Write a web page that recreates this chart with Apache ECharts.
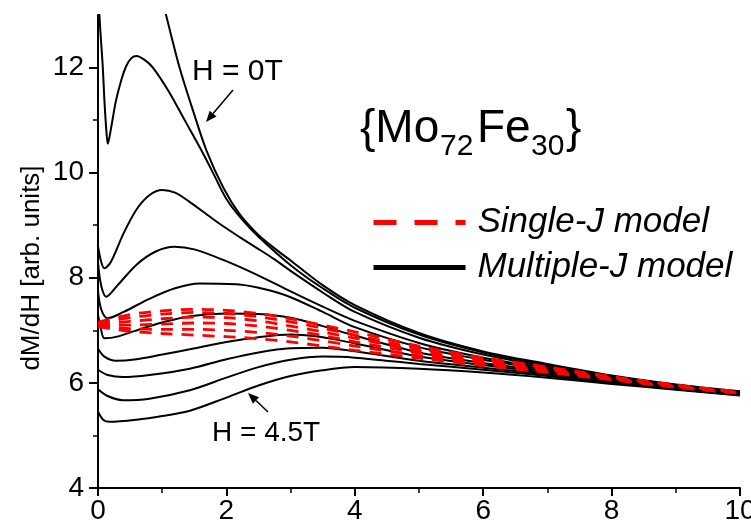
<!DOCTYPE html>
<html>
<head>
<meta charset="utf-8">
<script src="https://cdn.jsdelivr.net/npm/echarts@6/dist/echarts.min.js"></script>
<style>
  html, body { margin: 0; padding: 0; background: #fff; }
  #chart { width: 751px; height: 526px; }
</style>
</head>
<body>
<div id="chart"></div>
<script>
const xTicks = [0, 2, 4, 6, 8, 10];
const yTicks = [4, 6, 8, 10, 12];
const yMinorTicks = [5, 7, 9, 11];

// Multiple-J model, black curves from H = 0T (top) down to H = 4.5T (bottom)
const curveH0 = [[1.0,13.3],[1.06,13.0],[1.27,12.0],[1.48,11.18],[1.69,10.42],[1.95,9.72],[2.2,9.22],[2.47,8.85],[2.75,8.56],[3.0,8.33],[3.5,7.86],[4.0,7.48],[5.0,6.95],[6.0,6.6],[7.0,6.36],[8.0,6.14],[9.0,5.97],[10.0,5.84]];
const curveB = [[0.01,13.6],[0.023,12.98],[0.075,12.0],[0.1,11.37],[0.13,10.8],[0.153,10.55],[0.205,10.86],[0.28,11.37],[0.36,11.75],[0.44,12.03],[0.52,12.18],[0.6,12.22],[0.72,12.15],[0.855,12.0],[1.1,11.55],[1.35,11.0],[1.6,10.45],[1.79,10.0],[2.0,9.5],[2.25,9.1],[2.5,8.78],[3.0,8.24],[3.5,7.8],[4.0,7.43],[5.0,6.92],[6.0,6.58],[7.0,6.34],[8.0,6.13],[9.0,5.96],[10.0,5.83]];
const curveC = [[0,8.6],[0.05,8.3],[0.1,8.18],[0.2,8.3],[0.4,8.85],[0.6,9.3],[0.8,9.57],[1.0,9.67],[1.2,9.62],[1.42,9.45],[1.7,9.2],[1.95,8.98],[2.2,8.78],[2.47,8.57],[2.75,8.35],[3.0,8.13],[3.5,7.72],[4.0,7.35],[5.0,6.86],[6.0,6.54],[7.0,6.31],[8.0,6.11],[9.0,5.95],[10.0,5.82]];
const curveD = [[0,8.3],[0.05,7.85],[0.13,7.64],[0.3,7.85],[0.6,8.25],[0.9,8.5],[1.19,8.59],[1.5,8.54],[1.95,8.34],[2.47,8.06],[3.0,7.74],[3.5,7.45],[4.0,7.18],[5.0,6.76],[6.0,6.48],[7.0,6.28],[8.0,6.09],[9.0,5.94],[10.0,5.82]];
const curveE = [[0,7.75],[0.05,7.4],[0.15,7.23],[0.4,7.35],[0.8,7.6],[1.2,7.8],[1.58,7.89],[2.2,7.87],[2.6,7.78],[3.0,7.63],[3.5,7.35],[4.0,7.06],[5.0,6.68],[6.0,6.44],[7.0,6.25],[8.0,6.07],[9.0,5.93],[10.0,5.81]];
const curveF = [[0,7.3],[0.05,7.0],[0.1,6.85],[0.3,6.88],[0.7,7.04],[1.0,7.15],[1.43,7.27],[2.0,7.32],[2.5,7.31],[3.0,7.24],[3.5,7.08],[4.0,6.9],[5.0,6.58],[6.0,6.38],[7.0,6.22],[8.0,6.05],[9.0,5.91],[10.0,5.8]];
const curveG = [[0,6.65],[0.1,6.5],[0.28,6.42],[0.6,6.45],[1.0,6.54],[1.43,6.64],[2.0,6.78],[2.5,6.87],[3.0,6.92],[3.5,6.87],[4.0,6.75],[5.0,6.5],[6.0,6.34],[7.0,6.19],[8.0,6.03],[9.0,5.9],[10.0,5.79]];
const curveH = [[0,6.25],[0.15,6.15],[0.39,6.11],[0.8,6.15],[1.43,6.27],[2.0,6.45],[2.5,6.58],[3.0,6.66],[3.5,6.67],[4.0,6.6],[5.0,6.42],[6.0,6.29],[7.0,6.16],[8.0,6.01],[9.0,5.89],[10.0,5.78]];
const curveI = [[0,5.88],[0.15,5.75],[0.39,5.67],[0.8,5.7],[1.43,5.86],[2.0,6.1],[2.5,6.3],[3.0,6.44],[3.5,6.5],[4.0,6.48],[5.0,6.36],[6.0,6.25],[7.0,6.13],[8.0,6.0],[9.0,5.88],[10.0,5.77]];
const curveH45 = [[0,5.45],[0.08,5.3],[0.18,5.26],[0.6,5.3],[1.0,5.37],[1.43,5.47],[2.0,5.72],[2.5,5.95],[3.0,6.13],[3.5,6.24],[4.0,6.3],[5.0,6.27],[6.0,6.2],[7.0,6.1],[8.0,5.98],[9.0,5.87],[10.0,5.76]];

// Single-J model, red dashed curves
const redX = [0, 0.5, 1, 1.5, 2, 2.5, 3, 3.5, 4, 5, 6, 7, 8, 9, 10];
const red1 = [7.15, 7.30, 7.37, 7.40, 7.38, 7.32, 7.22, 7.10, 6.97, 6.70, 6.48, 6.30, 6.12, 5.96, 5.83];
const red2 = [7.13, 7.24, 7.31, 7.34, 7.32, 7.26, 7.16, 7.04, 6.91, 6.65, 6.45, 6.28, 6.10, 5.95, 5.82];
const red3 = [7.11, 7.17, 7.22, 7.25, 7.24, 7.18, 7.08, 6.97, 6.85, 6.61, 6.42, 6.26, 6.09, 5.94, 5.82];
const red4 = [7.10, 7.10, 7.12, 7.14, 7.13, 7.08, 7.00, 6.90, 6.78, 6.57, 6.39, 6.24, 6.08, 5.93, 5.81];
const red5 = [7.08, 7.03, 7.02, 7.02, 7.00, 6.96, 6.89, 6.80, 6.70, 6.52, 6.36, 6.22, 6.07, 5.92, 5.81];
const red6 = [7.07, 6.98, 6.94, 6.91, 6.88, 6.84, 6.78, 6.70, 6.62, 6.47, 6.33, 6.20, 6.06, 5.92, 5.80];

const FONT = "'Liberation Sans', Arial, sans-serif";
const blackCurves = [curveH0, curveB, curveC, curveD, curveE, curveF, curveG, curveH, curveI, curveH45];
const redCurves = [red1, red2, red3, red4, red5, red6];

const series = [];
blackCurves.forEach(c => {
    series.push({
        name: "Multiple-J model",
        type: "line",
        data: c,
        smooth: 0.3,
        symbol: "none",
        itemStyle: { color: "#000" },
        lineStyle: { color: "#000", width: 2 },
        z: 2,
    });
});
redCurves.forEach(r => {
    series.push({
        name: "Single-J model",
        type: "line",
        data: redX.map((x, i) => [x, r[i]]),
        smooth: 0.3,
        symbol: "none",
        itemStyle: { color: "#ff0000" },
        lineStyle: { color: "#ff0000", width: 2.8, type: [12, 9] },
        z: 3,
    });
});

// small arrow made of a line and a filled head
function arrow(x1, y1, x2, y2) {
    const a = Math.atan2(y2 - y1, x2 - x1);
    const L = 11, W = 4.5;
    const bx = x2 - L * Math.cos(a), by = y2 - L * Math.sin(a);
    const px = -Math.sin(a) * W, py = Math.cos(a) * W;
    return [
        { type: "line", shape: { x1: x1, y1: y1, x2: bx, y2: by }, style: { stroke: "#000", lineWidth: 1.5 } },
        { type: "polygon", shape: { points: [[x2, y2], [bx + px, by + py], [bx - px, by - py]] }, style: { fill: "#000" } },
    ];
}

const axisLineStyle = { color: "#000", width: 2 };

const option = {
    animation: false,
    grid: { left: 98, right: 11, top: 15, bottom: 38, outerBoundsMode: "none" },
    legend: {
        orient: "vertical",
        left: 371,
        top: 205,
        padding: 0,
        itemGap: 10,
        itemWidth: 92,
        itemHeight: 14,
        selectedMode: false,
        itemStyle: { opacity: 0 },
        textStyle: { fontFamily: FONT, fontSize: 35, fontStyle: "italic", color: "#000", padding: [0, 0, 0, 7] },
        data: [
            { name: "Single-J model", itemStyle: { opacity: 0 }, lineStyle: { width: 5, type: [23, 18], color: "#ff0000" } },
            { name: "Multiple-J model", itemStyle: { opacity: 0 }, lineStyle: { width: 5, color: "#000" } },
        ],
    },
    xAxis: {
        type: "value",
        min: 0,
        max: 10,
        interval: 2,
        axisLine: { show: true, onZero: false, lineStyle: axisLineStyle },
        axisTick: { show: true, length: 8, lineStyle: axisLineStyle },
        minorTick: { show: true, splitNumber: 2, length: 5, lineStyle: { color: "#000", width: 1.5 } },
        splitLine: { show: false },
        axisLabel: { customValues: xTicks, margin: 9, fontFamily: FONT, fontSize: 28, color: "#000" },
    },
    yAxis: [
        {
            type: "value",
            min: 4,
            max: 13,
            interval: 2,
            axisLine: { show: true, onZero: false, lineStyle: axisLineStyle },
            axisTick: { show: true, customValues: yTicks, length: 9, lineStyle: axisLineStyle },
            splitLine: { show: false },
            axisLabel: { customValues: yTicks, margin: 14, fontFamily: FONT, fontSize: 28, color: "#000" },
        },
        {
            // only carries the short ticks at odd values
            type: "value",
            position: "left",
            min: 4,
            max: 13,
            interval: 1,
            axisLine: { show: false },
            axisTick: { show: true, customValues: yMinorTicks, length: 5, lineStyle: { color: "#000", width: 1.5 } },
            axisLabel: { show: false },
            splitLine: { show: false },
        },
    ],
    graphic: [
        {
            type: "text", x: 32, y: 268, rotation: Math.PI / 2,
            style: { text: "dM/dH [arb. units]", font: "26px " + FONT, fill: "#000", align: "center", verticalAlign: "middle" },
        },
        { type: "text", x: 360, y: 129, style: { text: "{Mo", font: "46px " + FONT, fill: "#000", verticalAlign: "middle" } },
        { type: "text", x: 440, y: 147, style: { text: "72", font: "30px " + FONT, fill: "#000", verticalAlign: "middle" } },
        { type: "text", x: 477, y: 129, style: { text: "Fe", font: "46px " + FONT, fill: "#000", verticalAlign: "middle" } },
        { type: "text", x: 531, y: 147, style: { text: "30", font: "30px " + FONT, fill: "#000", verticalAlign: "middle" } },
        { type: "text", x: 566, y: 129, style: { text: "}", font: "46px " + FONT, fill: "#000", verticalAlign: "middle" } },
        { type: "text", x: 192, y: 72, style: { text: "H = 0T", font: "30px " + FONT, fill: "#000", verticalAlign: "middle" } },
        { type: "text", x: 212, y: 433, style: { text: "H = 4.5T", font: "28px " + FONT, fill: "#000", verticalAlign: "middle" } },
        ...arrow(233, 90, 206, 122),
        ...arrow(268, 412, 248, 393),
    ],
    series: series,
};

const chart = echarts.init(document.getElementById("chart"));
chart.setOption(option);
</script>
</body>
</html>
